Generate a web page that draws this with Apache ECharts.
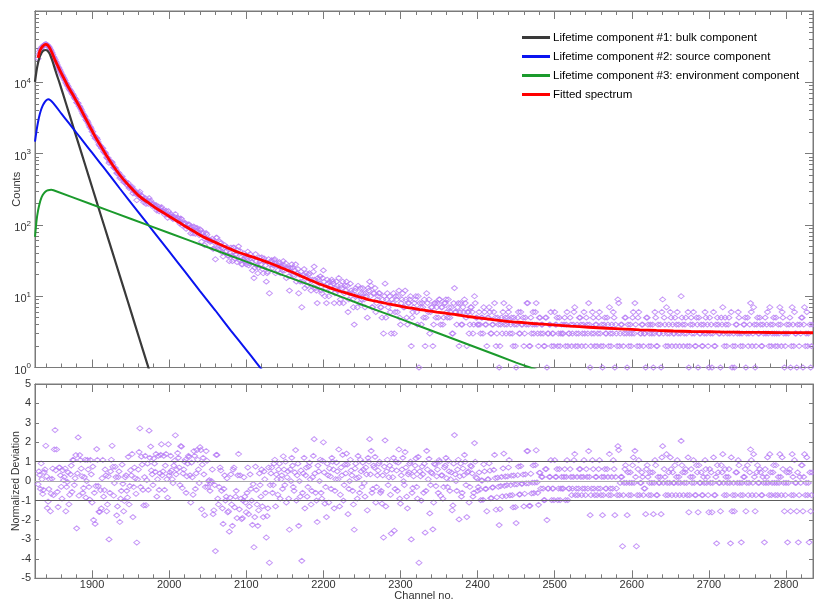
<!DOCTYPE html>
<html>
<head>
<meta charset="utf-8">
<title>Positron lifetime spectrum</title>
<script src="https://cdn.jsdelivr.net/npm/echarts@6/dist/echarts.min.js"></script>
<style>
  html, body { margin: 0; padding: 0; background: #ffffff; }
  #chart { width: 814px; height: 599px; }
</style>
</head>
<body>
<div id="chart"></div>
<script>
// Measured spectrum, stored as two interleaved sets:
// even channels 1830, 1832, ... 2834 and odd channels 1831, 1833, ... 2833
const EVEN_START = 1830;
const ODD_START = 1831;
const CH_STEP = 2;

const COUNTS_EVEN = [
  21476,27052,30157,31882,33586,34335,33247,31427,28736,26019,22891,
  20876,18672,16428,15045,13456,12282,11112,9895,9096,8192,
  7650,6954,6517,5912,5203,5068,4570,4112,3663,3377,
  3008,2838,2510,2347,2039,1812,1638,1658,1456,1294,
  1196,1183,1039,982,859,740,776,754,640,633,
  533,542,454,461,442,398,400,356,328,343,
  343,297,291,222,271,292,260,225,226,197,
  221,237,218,192,196,181,159,181,164,178,
  155,140,158,126,135,143,125,129,142,119,
  123,104,121,104,107,88,100,101,76,86,
  95,75,91,79,87,58,78,52,77,61,
  62,60,64,47,33,66,45,58,48,36,
  52,43,37,31,48,31,48,38,30,50,
  43,28,33,34,28,42,29,34,23,18,
  39,27,25,31,35,21,31,16,22,11,
  31,25,32,21,27,29,21,26,31,23,
  18,25,12,22,25,19,28,21,11,16,
  7,20,13,21,16,21,12,17,26,13,
  8,17,19,11,23,10,8,15,16,12,
  16,8,13,14,18,9,13,8,14,16,
  6,11,12,9,4,13,7,10,13,9,
  11,7,10,13,16,14,7,11,6,9,
  11,7,5,3,15,9,7,10,3,8,
  3,10,6,12,4,9,7,12,5,8,
  9,2,6,8,10,4,1,7,8,5,
  2,11,6,3,7,2,8,5,8,9,
  4,7,5,8,6,9,5,7,3,13,
  6,7,2,8,4,6,8,2,6,4,
  7,3,10,5,4,
  6,3,5,7,4,2,5,6,3,4,
  8,2,5,1,4,3,8,5,4,6,
  3,5,2,4,1,5,3,6,4,2,
  5,8,4,2,3,6,4,8,3,5,
  3,4,2,5,1,3,4,2,3,6,
  4,2,5,3,3,4,2,6,3,5,
  2,4,7,3,2,5,4,3,6,2,
  4,8,1,3,5,2,4,3,6,2,
  1,4,3,5,2,3,4,6,1,3,
  9,2,4,0,3,5,1,2,4,3,
  6,8,0,5,2,3,4,3,1,5,
  2,4,3,1,6,2,4,3,1,9,
  5,2,3,4,6,2,3,5,4,3,
  2,10,4,3,5,2,1,4,3,6,
  2,5,1,3,4,2,3,5,4,1,
  3,1,6,2,0,4,3,5,7,2,
  4,3,5,0,1,3,2,4,6,3,
  0,2,4,1,5,3,8,2,7,1,
  4,3,5,2,4,0,3,6,2,4,
  3,5,2,3,4,7,2,5,1,3,
  0,4,1,7,2,3,1,0,4,5,
  1,7,3,2,0,1,4
];

const COUNTS_ODD = [
  24578,28632,31218,32719,33910,33946,32410,30317,27392,24602,21940,
  19528,17427,15848,14236,12738,11645,10627,9531,8732,7888,
  7368,6799,6144,5731,5169,4639,4341,3896,3509,3263,
  2910,2681,2358,2206,2024,1784,1650,1571,1349,1280,
  1200,1072,1032,886,867,776,763,701,633,600,
  525,530,466,476,400,410,373,385,336,330,
  277,307,270,269,279,239,249,208,238,212,
  198,213,198,180,189,190,167,155,173,155,
  163,153,140,156,135,132,121,130,119,127,
  115,123,98,104,106,95,102,90,94,76,
  92,82,85,72,84,76,70,63,73,63,
  58,60,46,56,66,48,51,56,41,47,
  42,49,37,40,37,48,34,39,44,32,
  35,28,40,31,34,27,39,30,34,25,
  31,21,35,28,24,34,27,21,33,28,
  32,27,33,29,23,30,26,23,27,29,
  24,19,25,28,20,23,16,24,20,22,
  16,24,19,14,20,17,14,22,17,12,
  18,15,12,18,16,13,17,10,14,17,
  15,11,16,12,8,14,16,11,12,14,
  9,15,11,7,12,10,14,8,11,13,
  9,11,5,12,10,7,11,13,8,10,
  11,7,9,10,5,11,8,6,9,11,
  6,9,10,5,8,11,7,9,4,8,
  10,5,7,9,6,10,8,4,7,9,
  5,8,9,6,7,4,8,7,5,9,
  7,4,8,9,5,7,6,3,8,6,
  4,8,6,4,7,9,5,6,3,7,
  6,4,8,5,4,
  4,5,3,6,4,5,7,3,4,6,
  5,3,4,2,5,6,4,3,5,7,
  4,3,5,2,4,6,3,4,5,3,
  4,8,2,5,4,3,6,4,2,5,
  4,3,2,5,3,4,6,3,2,4,
  5,3,2,4,3,5,4,2,3,4,
  3,6,2,4,3,5,2,4,3,5,
  3,4,2,6,3,4,2,5,3,4,
  2,5,3,4,7,2,3,5,4,2,
  8,3,4,2,5,3,4,3,2,5,
  3,4,2,6,3,4,2,3,5,4,
  3,2,4,3,5,2,3,4,6,3,
  4,7,2,3,5,4,3,2,6,4,
  3,5,2,4,3,6,2,5,4,3,
  2,4,5,3,2,4,6,3,2,5,
  4,3,2,4,5,3,1,4,3,5,
  2,4,3,6,2,1,4,3,5,2,
  3,4,5,3,2,4,6,3,4,2,
  5,3,4,2,3,5,4,3,7,2,
  4,3,5,2,3,4,6,3,2,4,
  3,5,2,4,6,3,4,2,3,5,
  4,2,6,3,4,2
];

const DEVIATION_EVEN = [
  -0.16,0.32,0.91,-0.66,0.47,1.82,-1.38,-0.41,-1.55,0.12,-0.72,
  2.63,1.63,-1.33,0.70,-0.29,0.56,0.21,-1.55,-0.04,-1.19,
  0.35,-0.55,1.09,0.15,-2.43,2.25,1.34,0.65,-0.6,0.21,
  -0.85,1.09,-0.3,1.09,-1.1,-2.0,-2.2,1.65,-0.25,-1.58,
  -1.4,1.09,-0.46,0.3,-1.2,-3.0,0.5,1.82,-0.75,0.74,
  -1.76,0.21,-2.1,-0.5,-0.14,-1.02,0.3,-0.84,-1.2,0.56,
  1.4,-0.3,0.15,-3.16,0.6,2.72,1.26,-0.45,0.21,-1.24,
  0.9,2.6,1.78,0.35,1.17,0.48,-0.8,1.3,0.4,1.9,
  0.5,-0.45,1.4,-0.85,0.3,1.3,0.1,0.8,2.36,0.6,
  1.2,-0.2,1.78,0.4,1.0,-0.6,0.9,1.25,-1.1,0.2,
  1.55,-0.4,1.6,0.6,1.75,-1.45,1.2,-1.75,1.55,-0.3,
  0.05,-0.1,0.6,-1.5,-3.6,1.35,-1.2,0.7,-0.5,-2.2,
  0.3,-0.8,-1.6,-2.6,0.35,-2.3,0.7,-0.8,-1.9,1.4,
  0.3,-1.95,-1.0,-0.8,-1.6,0.7,-1.3,-0.4,-2.25,-3.4,
  0.75,-1.2,-1.5,-0.2,0.6,-1.85,0.1,-2.9,-1.4,-4.2,
  0.4,-0.6,0.9,-1.3,0.1,0.6,-0.9,0.3,1.28,-0.2,
  -1.1,0.5,-2.5,0.0,0.8,-0.5,1.6,0.3,-2.3,-0.8,
  -4.1,0.4,-1.4,0.7,-0.3,0.95,-1.2,0.2,2.16,-0.6,
  -2.1,0.5,1.1,-0.9,2.0,-1.16,-1.85,0.3,0.65,-0.4,
  1.0,-1.4,0.1,0.5,1.63,-0.7,0.3,-1.0,0.85,1.42,
  -1.7,0.0,0.55,-0.5,-2.5,0.9,-0.9,0.2,1.1,-0.3,
  0.6,-0.8,0.35,1.2,2.16,1.56,-0.4,0.7,-1.1,0.3,
  0.9,-0.6,-1.16,-2.9,2.1,0.5,-0.2,0.8,-2.7,0.2,
  -2.55,1.0,-0.5,1.63,-1.16,0.6,0.0,1.5,-0.8,0.35,
  0.9,-3.0,-0.35,0.5,1.17,-0.9,-4.2,0.25,0.75,-0.6,
  -2.65,1.56,0.1,-1.66,0.45,-2.48,0.9,-0.25,0.6,1.08,
  -0.75,0.3,-0.3,0.8,0.15,1.05,-0.5,0.45,-1.25,2.37,
  0.0,0.6,-1.97,0.9,-0.6,0.3,1.0,-1.85,0.5,-0.3,
  0.75,-0.8,1.96,0.2,-0.5,
  0.45,-0.98,0.03,0.87,-0.40,-1.55,0.10,0.54,-0.87,-0.32,
  1.35,-1.47,0.18,-2.26,-0.25,-0.78,1.42,0.24,-0.2,0.70,
  -0.73,0.28,-1.35,-0.17,-2.16,0.31,-0.69,0.78,-0.13,-1.3,
  0.35,1.55,-0.11,-1.27,-0.63,0.81,-0.08,1.59,-0.6,0.43,
  -0.38,0.22,-0.98,0.62,-2.0,-0.38,0.22,-0.98,-0.38,1.08,
  0.22,-0.98,0.62,-0.38,-0.38,0.22,-0.98,1.08,-0.38,0.62,
  -0.72,0.22,1.4,-0.38,-0.72,0.62,0.22,-0.38,1.08,-0.72,
  0.22,1.55,-1.75,-0.38,0.62,-0.72,0.22,-0.38,1.08,-0.72,
  -1.75,0.22,-0.38,0.62,-0.72,-0.38,0.22,1.08,-1.75,-0.38,
  1.8,-0.72,0.22,-3.35,-0.09,0.82,-1.75,-0.72,0.45,-0.09,
  1.22,1.56,-3.35,0.62,-0.72,-0.09,0.22,-0.38,-1.7,0.82,
  -0.72,0.45,-0.09,-1.7,1.08,-0.72,0.22,-0.09,-1.7,1.8,
  0.62,-0.72,-0.09,0.45,1.22,-0.72,-0.09,0.82,0.22,-0.09,
  -0.72,2.07,0.45,-0.09,0.62,-0.72,-1.6,0.22,-0.09,1.08,
  -0.72,0.82,-1.6,-0.09,0.45,-0.72,-0.09,0.62,0.22,-1.6,
  -0.09,-1.6,1.22,-0.72,-3.2,0.45,-0.09,0.82,1.39,-0.72,
  0.22,-0.09,0.62,-3.2,-1.55,-0.09,-0.72,0.45,1.08,-0.09,
  -3.15,-0.72,0.22,-1.55,0.82,-0.09,1.63,-0.72,1.39,-1.55,
  0.45,-0.09,0.62,-0.72,0.22,-3.15,-0.09,1.22,-0.72,0.45,
  -0.09,0.82,-0.72,-0.09,0.22,1.39,-0.72,0.62,-1.55,-0.09,
  -3.15,0.45,-1.55,1.39,-0.72,-0.09,-1.55,-3.15,0.22,0.82,
  -1.55,1.39,-0.09,-0.72,-3.15,-1.55,0.45
];

const DEVIATION_ODD = [
  0.5,-0.4,0.1,-0.45,0.6,0.25,-1.05,0.1,-0.65,0.65,1.63,
  0.56,-0.55,0.70,0.3,-0.9,0.05,0.65,-0.3,0.45,-0.7,
  0.8,1.09,-0.2,1.34,0.4,-0.75,1.09,0.25,-0.35,1.1,
  0.0,0.6,-0.95,0.35,0.75,-0.6,-0.25,1.09,-1.58,-0.46,
  0.15,-0.8,0.6,-1.55,0.25,-0.6,1.1,0.74,-0.1,0.21,
  -1.3,0.5,-0.9,0.85,-1.55,0.2,-0.5,1.25,-0.25,0.3,
  -1.85,0.7,-0.65,0.1,1.5,-0.3,0.85,-1.25,1.3,0.05,
  -0.45,1.2,0.55,-0.2,0.9,1.4,0.1,-0.45,1.35,0.3,
  1.3,0.8,0.1,1.9,0.45,0.55,-0.1,1.05,0.35,1.45,
  0.7,1.8,-0.35,0.6,1.1,0.25,1.3,0.3,0.95,-0.7,
  1.3,0.4,1.1,-0.1,1.6,0.85,0.35,-0.3,1.05,0.0,
  -0.5,0.0,-1.7,-0.2,1.35,-0.9,-0.3,0.55,-1.4,-0.4,
  -1.0,0.15,-1.55,-0.85,-1.2,0.6,-1.35,-0.5,0.3,-1.45,
  -0.9,-1.9,0.2,-1.1,-0.6,-1.7,0.35,-1.0,-0.15,-1.85,
  -0.45,-2.3,0.4,-0.8,-1.3,0.5,-0.6,-1.8,0.7,-0.2,
  0.7,-0.2,1.1,0.35,-0.7,0.9,0.1,-0.4,0.6,1.0,
  0.2,-0.9,0.6,1.2,-0.3,0.45,-1.0,0.9,0.0,0.55,
  -0.6,1.2,0.3,-0.8,0.75,0.1,-0.5,1.3,0.4,-1.0,
  0.8,0.0,-0.6,1.05,0.45,-0.3,0.9,-1.1,0.25,1.2,
  0.6,-0.5,0.95,0.1,-1.3,0.7,1.35,-0.2,0.4,0.85,
  -0.4,1.1,0.3,-1.2,0.65,0.15,1.3,-0.6,0.5,0.95,
  -0.1,0.7,-1.5,1.0,0.35,-0.6,0.8,1.25,-0.3,0.55,
  1.0,-0.5,0.3,0.75,-1.3,1.1,0.2,-0.7,0.6,1.2,
  -0.4,0.55,0.95,-0.9,0.3,1.2,-0.2,0.7,-1.4,0.45,
  1.0,-0.6,0.25,0.8,-0.3,1.25,0.5,-1.0,0.35,0.9,
  -0.5,0.6,1.15,-0.2,0.4,-1.1,0.85,0.25,-0.6,1.0,
  0.3,-0.9,0.7,1.2,-0.3,0.5,0.1,-1.5,0.9,0.35,
  -0.5,1.1,0.25,-0.8,0.65,1.35,-0.2,0.45,-1.1,0.8,
  0.4,-0.6,1.0,0.15,-0.3,
  -0.44,0.04,-0.96,0.5,-0.4,0.09,0.92,-0.88,-0.33,0.58,
  0.16,-0.83,-0.29,-1.44,0.22,0.66,-0.24,-0.77,0.25,1.09,
  -0.2,-0.72,0.29,-1.34,-0.16,0.75,-0.68,-0.14,0.34,-0.65,
  -0.11,1.55,-1.27,0.38,-0.08,-0.61,0.83,-0.06,-1.22,0.43,
  0.22,-0.38,-0.98,0.62,-0.38,0.22,1.08,-0.38,-0.98,0.22,
  0.62,-0.38,-0.98,0.22,-0.38,0.62,0.22,-0.98,-0.38,0.22,
  -0.38,1.08,-0.72,0.22,-0.38,0.62,-0.72,0.22,-0.38,0.62,
  -0.38,0.22,-0.72,1.08,-0.38,0.22,-0.72,0.62,-0.38,0.22,
  -0.72,0.62,-0.38,0.22,1.4,-0.72,-0.38,0.62,0.22,-0.72,
  1.6,-0.09,0.22,-0.72,0.62,-0.09,0.45,-0.09,-0.72,0.82,
  -0.09,0.22,-0.72,1.08,-0.09,0.45,-0.72,-0.38,0.62,0.22,
  -0.09,-0.72,0.45,-0.09,0.82,-0.72,-0.09,0.22,1.22,-0.09,
  0.22,1.39,-0.72,-0.09,0.62,0.45,-0.09,-0.72,1.08,0.22,
  -0.09,0.82,-0.72,0.45,-0.09,1.22,-0.72,0.62,0.22,-0.09,
  -0.72,0.45,0.82,-0.09,-0.72,0.22,1.08,-0.09,-0.72,0.62,
  0.45,-0.09,-0.72,0.22,0.82,-0.09,-1.55,0.45,-0.09,0.62,
  -0.72,0.22,-0.09,1.22,-0.72,-1.55,0.45,-0.09,0.82,-0.72,
  -0.09,0.22,0.62,-0.09,-0.72,0.45,1.08,-0.09,0.22,-0.72,
  0.82,-0.09,0.45,-0.72,-0.09,0.62,0.22,-0.09,1.39,-0.72,
  0.45,-0.09,0.82,-0.72,-0.09,0.22,1.22,-0.09,-0.72,0.45,
  -0.09,0.62,-0.72,0.22,1.08,-0.09,0.45,-0.72,-0.09,0.82,
  0.22,-0.72,1.22,-0.09,0.45,-0.72
];

// Fitted spectrum and its three lifetime components (channel, counts)
const FIT_CH = [1830,1832,1834,1836,1838,1840,1842,1844,1846,1848,1850,1852,1856,1860,1864,1868,1872,1876,1880,1884,1888,1892,1896,1900,1904,1910,1916,1922,1928,1936,1944,1952,1962,1972,1980,1990,2001,2012,2022,2033,2044,2055,2066,2077,2088,2100,2110,2120,2131,2142,2152,2163,2174,2185,2195,2206,2217,2228,2240,2250,2260,2271,2282,2293,2304,2315,2325,2336,2347,2358,2370,2380,2390,2401,2412,2422,2433,2446,2460,2472,2485,2502,2520,2544,2568,2590,2610,2632,2654,2677,2700,2720,2740,2765,2790,2812,2835];
const FIT_VAL = [22000,27000,30000,32000,33500,34000,33500,31500,29000,26000,23000,20500,16600,13490,11090,9100,7620,6430,5380,4480,3700,3055,2525,2090,1730,1352,1054,826,659,501,394,318,249,208,180,154,130,110,94,80,68,60,53,47,42,38,35,32,29,26,23.5,21,18.5,16.5,14.8,13.4,12.2,11.2,10.3,9.55,8.85,8.36,7.9,7.49,7.1,6.78,6.5,6.24,6.0,5.78,5.55,5.35,5.15,4.97,4.8,4.65,4.5,4.37,4.25,4.14,4.05,3.92,3.8,3.67,3.55,3.46,3.38,3.31,3.25,3.2,3.17,3.14,3.12,3.1,3.09,3.08,3.07];

const BULK_CH = [1826,1828,1830,1832,1834,1836,1838,1840,1842,1844,1846,1848,1850,1854,1858,1866,1876,1886,1896,1906,1916,1926,1936,1946,1956,1966,1976];
const BULK_VAL = [10150,14500,18800,22500,25300,27200,28200,28400,27800,26200,23800,20800,17800,13000,9680,5120,2300,1040,468,210,95,42.9,19.3,8.7,3.9,1.75,0.79];

const SOURCE_CH = [1826,1828,1830,1832,1834,1836,1838,1840,1843,1846,1850,1860,1870,1880,1890,1900,1910,1920,1936,1960,1980,2000,2020,2040,2060,2080,2100,2113,2122];
const SOURCE_VAL = [1470,2100,2800,3500,4150,4700,5150,5500,5770,5600,5050,3670,2670,1945,1415,1030,750,546,324,151,80,42.4,22.5,11.8,6.3,3.3,1.77,1.17,0.88];

const ENV_CH = [1826,1828,1830,1832,1834,1836,1838,1840,1843,1847,1850,1900,1950,2000,2050,2100,2150,2200,2250,2300,2350,2400,2450,2468,2480];
const ENV_VAL = [68,115,160,200,235,262,282,296,306,310,306,193,122,76.9,48.5,30.6,19.3,12.2,7.6,4.8,3.0,1.88,1.17,1.0,0.9];

// Axis ticks
const X_LABELS = [1900,2000,2100,2200,2300,2400,2500,2600,2700,2800];
const DEV_TICKS = [-5,-4,-3,-2,-1,0,1,2,3,4,5];
const SERIES_NAMES = [
  'Lifetime component #1: bulk component',
  'Lifetime component #2: source component',
  'Lifetime component #3: environment component',
  'Fitted spectrum'
];

const FONT = '"Liberation Sans", Arial, Helvetica, sans-serif';
const AXIS_COLOR = '#7a7a7a';
const TEXT_COLOR = '#333333';
const MARKER_COLOR = '#b67cf5';
const X_MIN = 1826, X_MAX = 2835;

const xMinor = [];
for (let c = 1840; c <= X_MAX; c += 20) if (c % 100 !== 0) xMinor.push(c);
// minor tick positions of the log axis, expressed in decades
const logMinor = [];
for (let k = 0; k < 5; k++) for (let m = 2; m <= 9; m++) logMinor.push(k + Math.log10(m));

const zip = (xs, ys) => xs.map((x, i) => [x, ys[i]]);
const withChannels = (vals, start) => vals.map((v, i) => [start + i * CH_STEP, v]);
const countPoints = withChannels(COUNTS_EVEN, EVEN_START)
  .concat(withChannels(COUNTS_ODD, ODD_START))
  .filter(p => p[1] > 0);
const devPoints = withChannels(DEVIATION_EVEN, EVEN_START)
  .concat(withChannels(DEVIATION_ODD, ODD_START));

function xAxisDef(gridIndex, position, ticks, len, extra) {
  return Object.assign({
    type: 'value', gridIndex: gridIndex, position: position, min: X_MIN, max: X_MAX,
    axisLine: { show: true, onZero: false, lineStyle: { color: AXIS_COLOR, width: 1 } },
    axisTick: { show: true, inside: true, length: len, customValues: ticks, lineStyle: { color: AXIS_COLOR, width: 1 } },
    axisLabel: { show: false },
    splitLine: { show: false }
  }, extra || {});
}

function yTickAxis(gridIndex, position, type, min, max, ticks, len, extra) {
  const ax = {
    type: type, gridIndex: gridIndex, position: position, min: min, max: max,
    axisLine: { show: true, onZero: false, lineStyle: { color: AXIS_COLOR, width: 1 } },
    axisTick: { show: true, inside: true, length: len, lineStyle: { color: AXIS_COLOR, width: 1 } },
    axisLabel: { show: false },
    splitLine: { show: false }
  };
  if (ticks) ax.axisTick.customValues = ticks;
  return Object.assign(ax, extra || {});
}

function lineSeries(name, xs, ys, color, width, smooth) {
  return {
    name: name, type: 'line', xAxisIndex: 0, yAxisIndex: 0,
    data: zip(xs, ys), smooth: smooth, showSymbol: false, symbol: 'none',
    clip: true, silent: true,
    lineStyle: { color: color, width: width },
    itemStyle: { color: color }
  };
}

const chart = echarts.init(document.getElementById('chart'), null, { renderer: 'canvas' });

chart.setOption({
  animation: false,
  backgroundColor: '#ffffff',
  textStyle: { fontFamily: FONT },
  grid: [
    { left: 35, top: 11, width: 778, height: 356.5, show: true, borderColor: AXIS_COLOR, borderWidth: 1,
      containLabel: false, outerBoundsMode: 'none' },
    { left: 35, top: 384, width: 778, height: 194.3, show: true, borderColor: AXIS_COLOR, borderWidth: 1,
      containLabel: false, outerBoundsMode: 'none' }
  ],
  legend: {
    data: SERIES_NAMES,
    orient: 'vertical',
    left: 522, top: 31,
    padding: 0,
    icon: 'rect',
    itemWidth: 28, itemHeight: 3,
    itemGap: 6,
    selectedMode: false,
    textStyle: { fontFamily: FONT, fontSize: 11.5, color: '#000000', lineHeight: 13, padding: [0, 0, 0, -2] }
  },
  xAxis: [
    xAxisDef(0, 'bottom', X_LABELS, 8),
    xAxisDef(0, 'bottom', xMinor, 4),
    xAxisDef(0, 'top', X_LABELS, 8),
    xAxisDef(0, 'top', xMinor, 4),
    xAxisDef(1, 'bottom', X_LABELS, 8, {
      axisLabel: { show: true, customValues: X_LABELS, margin: 1, fontSize: 11, color: TEXT_COLOR, fontFamily: FONT,
                   formatter: function (v) { return String(v); } },
      name: 'Channel no.', nameLocation: 'middle', nameGap: 12, nameMoveOverlap: false,
      nameTextStyle: { fontSize: 11, color: TEXT_COLOR, fontFamily: FONT }
    }),
    xAxisDef(1, 'bottom', xMinor, 4),
    xAxisDef(1, 'top', X_LABELS, 8),
    xAxisDef(1, 'top', xMinor, 4)
  ],
  yAxis: [
    yTickAxis(0, 'left', 'log', 1, 100000, null, 8, {
      logBase: 10,
      splitNumber: 5,
      axisLabel: {
        show: true, margin: 4, padding: [6, 0, 0, 0],
        formatter: function (v) {
          const e = Math.round(Math.log10(v));
          return e >= 5 ? '' : '{b|10}{s|' + e + '}';
        },
        rich: {
          b: { fontSize: 11, color: TEXT_COLOR, fontFamily: FONT },
          s: { fontSize: 8, color: TEXT_COLOR, fontFamily: FONT, padding: [0, 0, 9, 0] }
        }
      },
      name: 'Counts', nameLocation: 'middle', nameGap: 13, nameMoveOverlap: false,
      nameTextStyle: { fontSize: 11, color: TEXT_COLOR, fontFamily: FONT }
    }),
    yTickAxis(0, 'left', 'value', 0, 5, logMinor, 4),
    yTickAxis(0, 'right', 'log', 1, 100000, null, 8, { logBase: 10, splitNumber: 5 }),
    yTickAxis(0, 'right', 'value', 0, 5, logMinor, 4),
    yTickAxis(1, 'left', 'value', -5, 5, DEV_TICKS, 4, {
      interval: 1,
      axisLabel: { show: true, customValues: DEV_TICKS, margin: 4, fontSize: 11, color: TEXT_COLOR, fontFamily: FONT },
      name: 'Normalized Deviation', nameLocation: 'middle', nameGap: 13, nameMoveOverlap: false,
      nameTextStyle: { fontSize: 10.5, color: TEXT_COLOR, fontFamily: FONT }
    }),
    yTickAxis(1, 'right', 'value', -5, 5, DEV_TICKS, 4, { interval: 1 })
  ],
  series: [
    {
      type: 'scatter', xAxisIndex: 0, yAxisIndex: 0, data: countPoints,
      symbol: 'diamond', symbolSize: [6, 5], silent: true, clip: true,
      itemStyle: { color: 'rgba(255,255,255,0)', borderColor: MARKER_COLOR, borderWidth: 1 }
    },
    lineSeries(SERIES_NAMES[0], BULK_CH, BULK_VAL, '#3a3a3a', 2.2, 0.2),
    lineSeries(SERIES_NAMES[1], SOURCE_CH, SOURCE_VAL, '#0a14f0', 2, 0.2),
    lineSeries(SERIES_NAMES[2], ENV_CH, ENV_VAL, '#1b9a2c', 2, 0.2),
    lineSeries(SERIES_NAMES[3], FIT_CH, FIT_VAL, '#ff0000', 2.8, 0.3),
    {
      type: 'scatter', xAxisIndex: 4, yAxisIndex: 4, data: devPoints,
      symbol: 'diamond', symbolSize: [6, 5], silent: true, clip: true,
      itemStyle: { color: 'rgba(255,255,255,0)', borderColor: MARKER_COLOR, borderWidth: 1 },
      markLine: {
        silent: true, symbol: ['none', 'none'], label: { show: false },
        data: [
          { yAxis: 1, lineStyle: { color: '#5c5c5c', width: 1, type: 'solid' } },
          { yAxis: 0, lineStyle: { color: '#a8a8a8', width: 1, type: 'solid' } },
          { yAxis: -1, lineStyle: { color: '#5c5c5c', width: 1, type: 'solid' } }
        ]
      }
    }
  ]
});
</script>
</body>
</html>
